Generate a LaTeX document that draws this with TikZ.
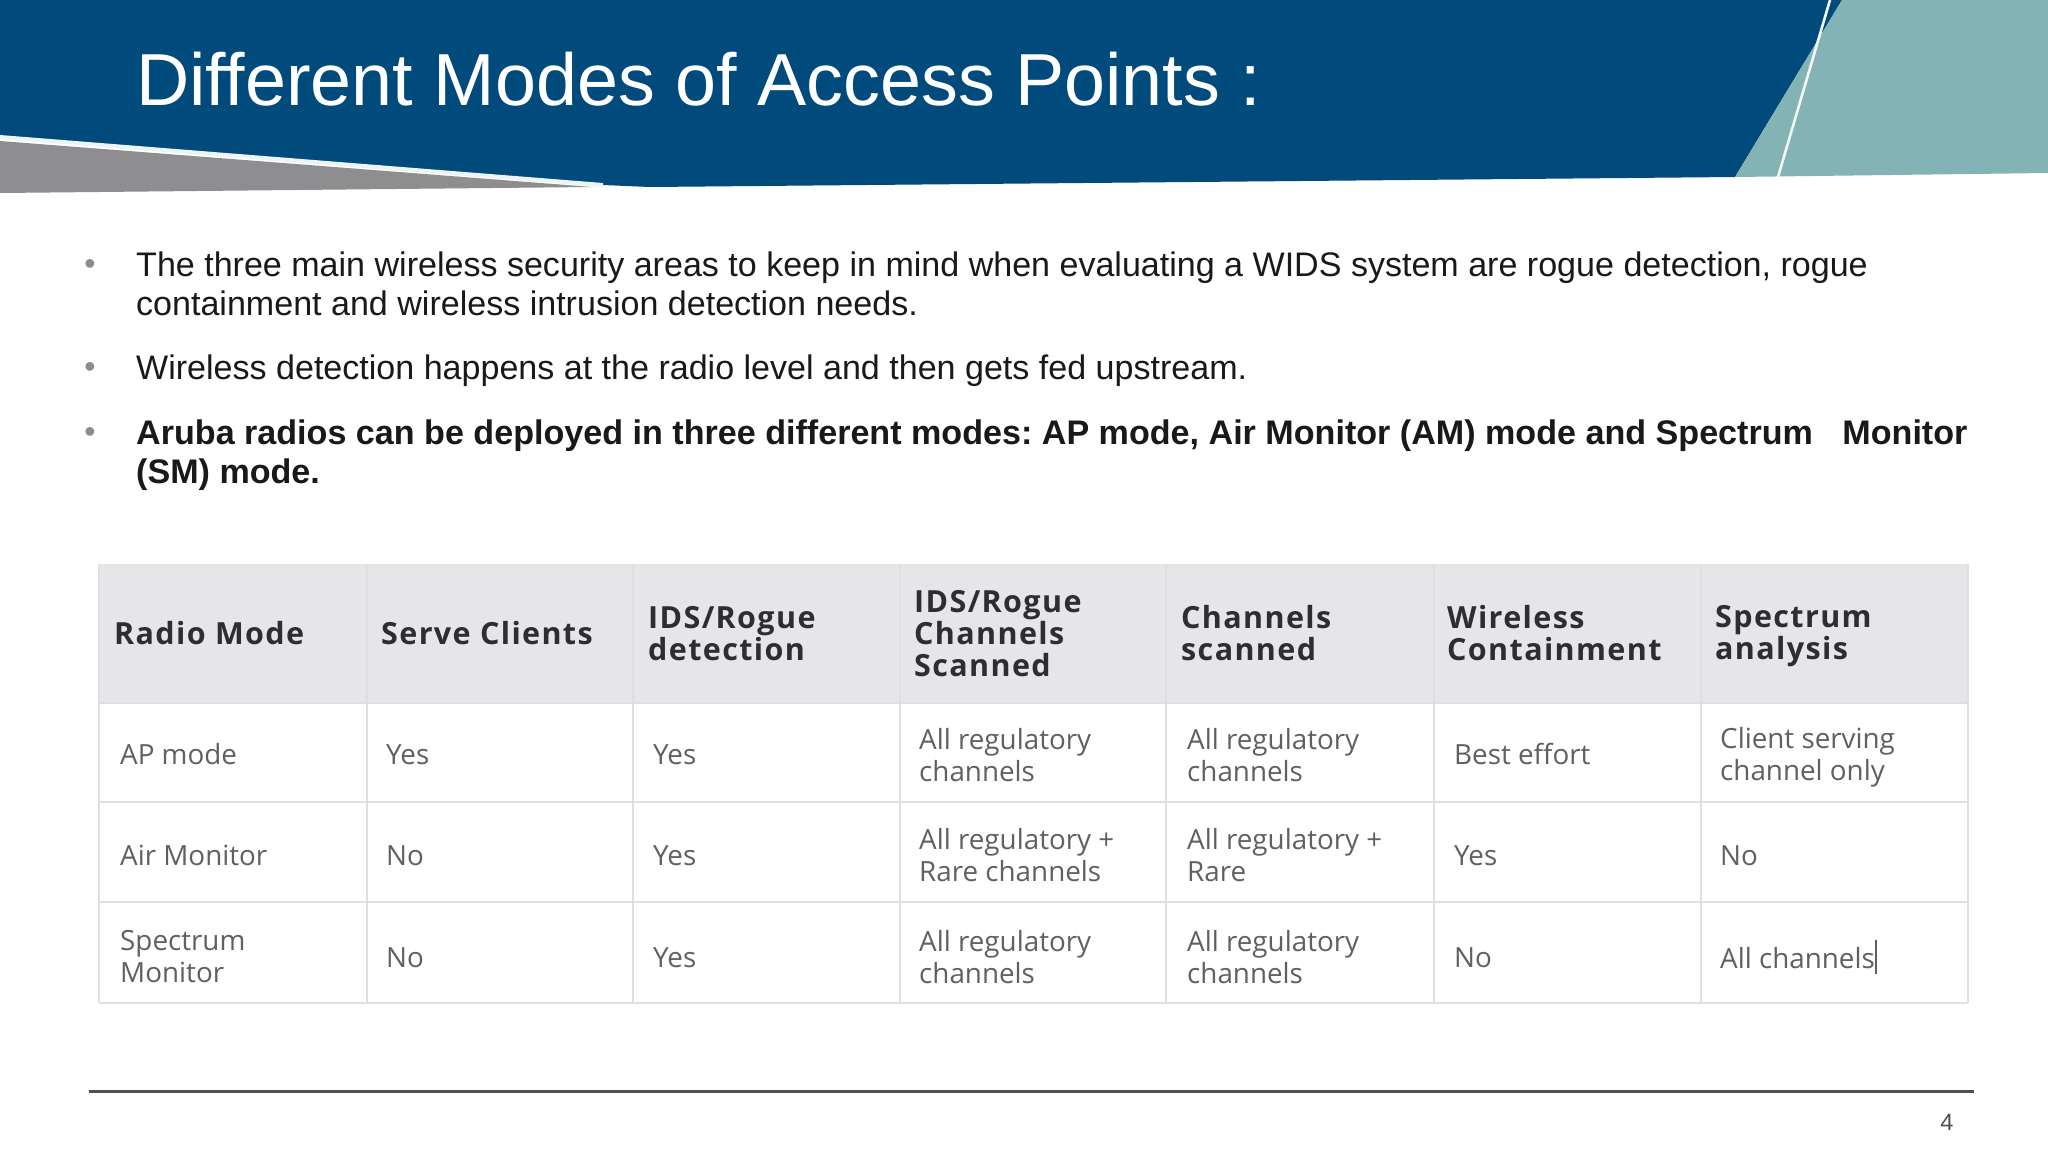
\documentclass[tikz,border=0pt]{standalone}
\usepackage{fontspec}
\setmainfont{Liberation Sans}
\newfontfamily\tabfont{Open Sans}
\newfontfamily\tabbold[LetterSpace=4.5]{Open Sans Bold}
\definecolor{navy}{HTML}{004B7C}
\definecolor{teal}{HTML}{83B3B5}
\definecolor{greyband}{HTML}{8E8E90}
\definecolor{headfill}{HTML}{E6E6E8}
\definecolor{gridline}{HTML}{DFDFE3}
\definecolor{celltext}{HTML}{606064}
\definecolor{headtext}{HTML}{2E2E30}
\definecolor{rulecol}{HTML}{4F4F52}
\tikzset{
  x=1pt,y=-1pt,
  titletext/.style={anchor=base west,inner sep=0,text=white,font=\fontsize{73.7}{80}\selectfont},
  bodytext/.style={anchor=base west,inner sep=0,align=left,text=black!90,font=\frenchspacing\fontsize{34.05}{39}\selectfont},
  bul/.style={anchor=center,inner sep=0,text=black!45,font=\fontsize{32}{32}\selectfont},
  headcell/.style={anchor=west,inner sep=0,align=left,text=headtext,font=\tabbold\fontsize{30.5}{32}\selectfont},
  bodycell/.style={anchor=west,inner sep=0,align=left,text=celltext,font=\tabfont\fontsize{27.8}{32}\selectfont},
  gridrule/.style={draw=gridline,line width=1.4pt},
}
\begin{document}
\begin{tikzpicture}
\useasboundingbox (0,0) rectangle (2048,1152);
\fill[white] (0,0) rectangle (2048,1152);
% banner
\fill[navy] (0,0) -- (1842,0) -- (1735,177) -- (650,187) -- (603,185) -- (0,137) -- cycle;
\fill[teal] (1842,0) -- (2048,0) -- (2048,173) -- (1735,177) -- cycle;
\fill[greyband] (0,141) -- (592,187) -- (0,193) -- cycle;
\draw[white!85!teal,line width=4pt] (0,137) -- (603,185);
\draw[white!90!teal,line width=2.6pt] (1830,0) -- (1778,177);
\node[titletext] (title) at (136,105) {Different Modes of Access Points :};
% bullets
\node[bul] (b1) at (90,267) {•};
\node[bul] (b2) at (90,370) {•};
\node[bul] (b3) at (90,435) {•};
\node[bodytext] (t1) at (136,315) {The three main wireless security areas to keep in mind when evaluating a WIDS system are rogue detection, rogue\\containment and wireless intrusion detection needs.};
\node[bodytext] (t2) at (136,379) {Wireless detection happens at the radio level and then gets fed upstream.};
\node[bodytext,font=\frenchspacing\bfseries\fontsize{34.1}{39}\selectfont] (t3) at (136,483) {Aruba radios can be deployed in three different modes: AP mode, Air Monitor (AM) mode and Spectrum\hspace{20pt} Monitor\\(SM) mode.};
% table
\fill[white!99!gridline] (99,703) rectangle (1968,1003);
\fill[headfill] (99,564) rectangle (1968,703);
\foreach \xx in {99,367,633,900,1166,1434,1701,1968} \draw[gridrule] (\xx,564) -- (\xx,1003);
\foreach \yy in {703,802,902,1003} \draw[gridrule] (99,\yy) -- (1968,\yy);
% header
\node[headcell] (h1) at (114,633) {Radio Mode};
\node[headcell] (h2) at (381,633) {Serve Clients};
\node[headcell] (h3) at (648,634) {IDS/Rogue\\detection};
\node[headcell] (h4) at (914,634) {IDS/Rogue\\Channels\\Scanned};
\node[headcell] (h5) at (1181,633) {Channels\\scanned};
\node[headcell] (h6) at (1447,633) {Wireless\\Containment};
\node[headcell] (h7) at (1715,636) {Spectrum\\analysis};
% row 1
\node[bodycell] (a1) at (120,754) {AP mode};
\node[bodycell] (a2) at (386,755) {Yes};
\node[bodycell] (a3) at (653,755) {Yes};
\node[bodycell] (a4) at (919,755) {All regulatory\\channels};
\node[bodycell] (a5) at (1187,755) {All regulatory\\channels};
\node[bodycell] (a6) at (1454,754) {Best effort};
\node[bodycell] (a7) at (1720,757) {Client serving\\channel only};
% row 2
\node[bodycell] (b1c) at (120,855) {Air Monitor};
\node[bodycell] (b2c) at (386,856) {No};
\node[bodycell] (b3c) at (653,856) {Yes};
\node[bodycell] (b4c) at (919,855) {All regulatory +\\Rare channels};
\node[bodycell] (b5c) at (1187,855) {All regulatory +\\Rare};
\node[bodycell] (b6c) at (1454,856) {Yes};
\node[bodycell] (b7c) at (1720,856) {No};
% row 3
\node[bodycell] (c1) at (120,957) {Spectrum\\Monitor};
\node[bodycell] (c2) at (386,958) {No};
\node[bodycell] (c3) at (653,958) {Yes};
\node[bodycell] (c4) at (919,957) {All regulatory\\channels};
\node[bodycell] (c5) at (1187,957) {All regulatory\\channels};
\node[bodycell] (c6) at (1454,958) {No};
\node[bodycell] (c7) at (1720,958) {All channels};
\draw[celltext,line width=1.5pt] (1876,940) -- (1876,974);
% footer
\draw[rulecol,line width=3pt] (89,1091) -- (1974,1091);
\node[anchor=center,inner sep=0,text=rulecol,font=\fontsize{23.5}{24}\selectfont] (pg) at (1947,1122) {4};
\end{tikzpicture}
\end{document}
